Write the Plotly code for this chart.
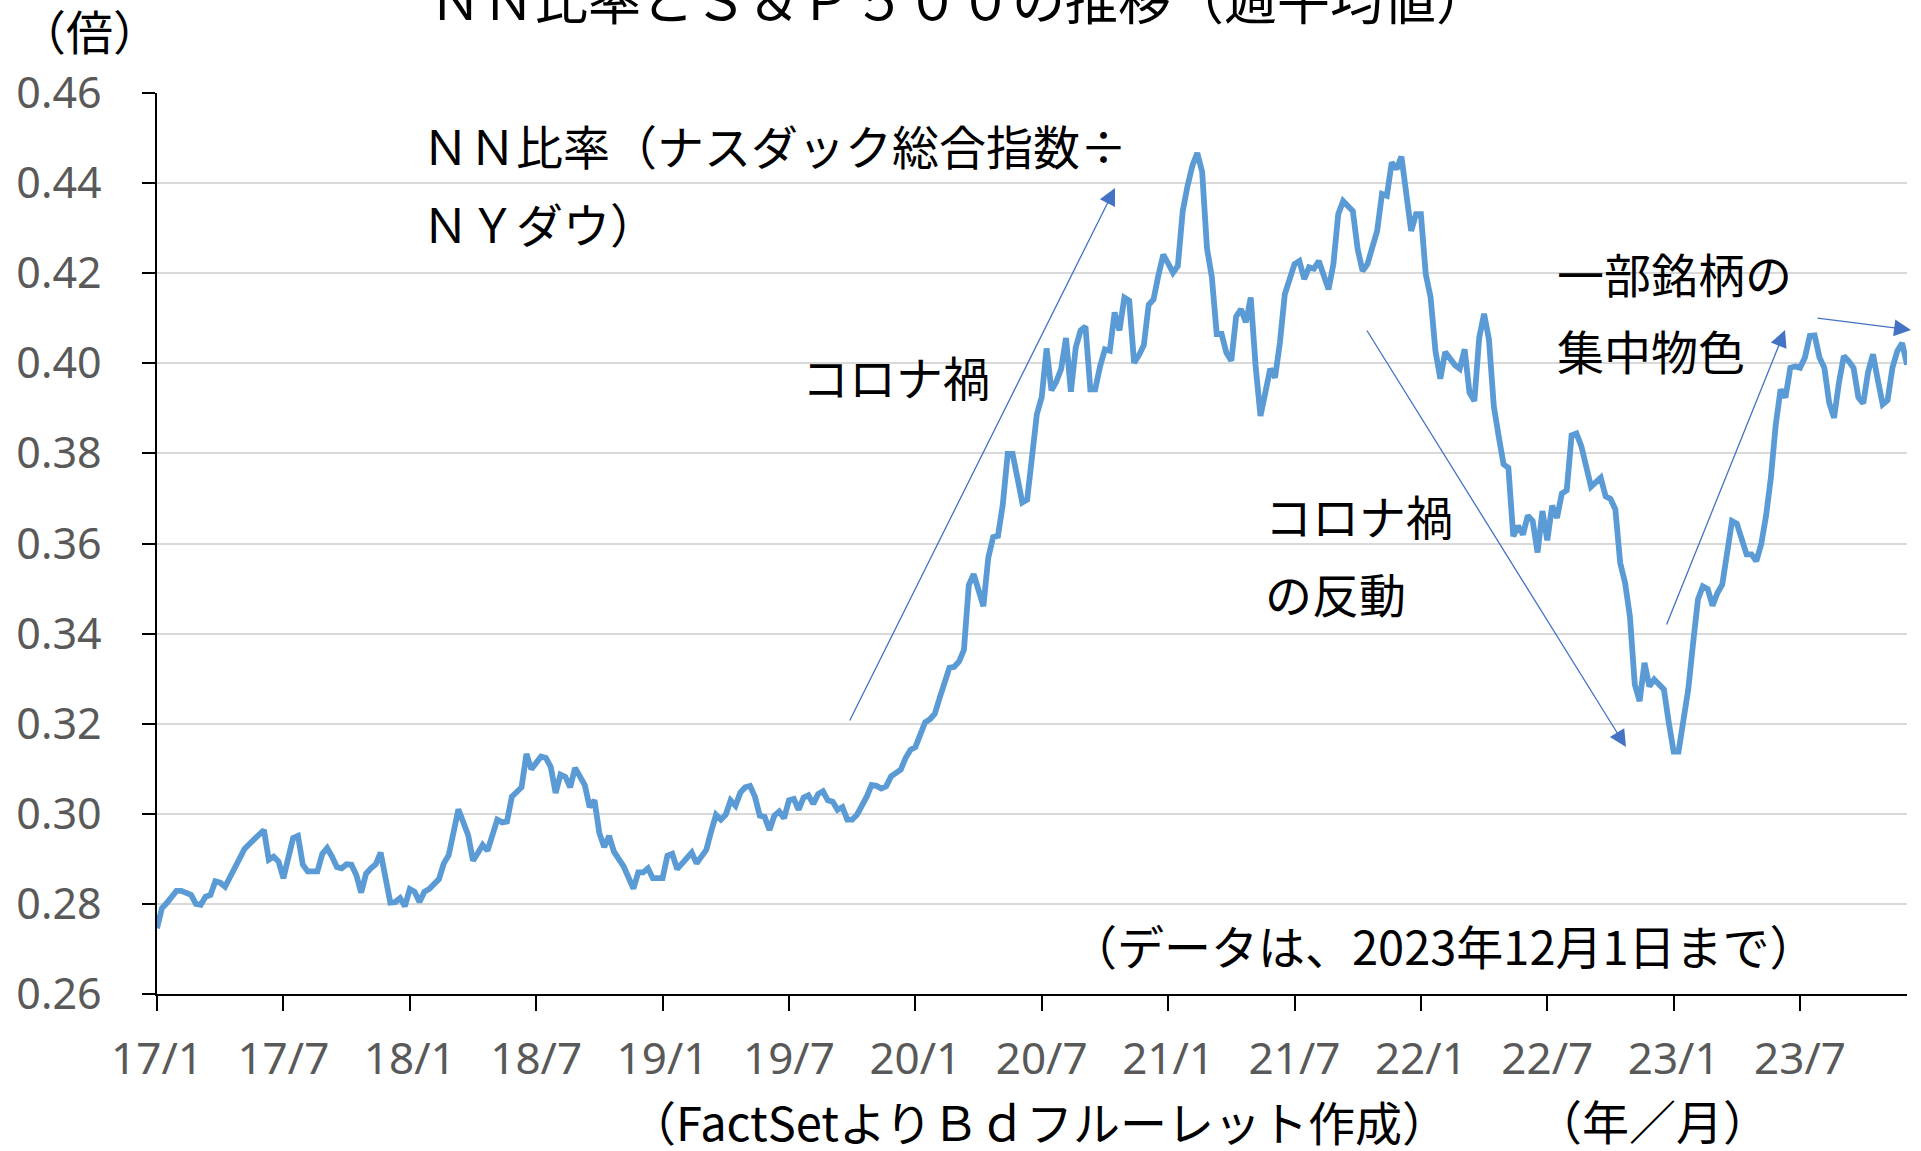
import numpy as np
import pandas as pd
import plotly.graph_objects as go

# ---------------- data (weekly) ----------------
start_date = "2017-01-06"
weeks = [0, 1, 2, 3, 4, 5, 7, 8, 9, 10, 11, 12, 13, 14, 15, 16, 17, 18, 19, 21,
         22, 23, 24, 25, 26, 27, 28, 29, 30, 31, 33, 34, 35, 36, 37, 38, 39, 40, 41, 42,
         43, 44, 45, 46, 47, 48, 49, 50, 51, 52, 53, 54, 55, 56, 58, 59, 60, 61, 62, 64,
         65, 66, 67, 68, 69, 70, 71, 72, 73, 74, 75, 76, 77, 78, 79, 80, 81, 82, 83, 84,
         85, 86, 87, 88, 89, 90, 91, 92, 93, 94, 96, 97, 98, 99, 100, 101, 102, 103, 104, 105,
         106, 107, 108, 109, 110, 111, 112, 113, 114, 115, 116, 117, 118, 119, 120, 121, 122, 123, 124, 125,
         126, 127, 128, 129, 130, 131, 132, 133, 134, 135, 136, 137, 138, 139, 140, 141, 142, 143, 144, 145,
         146, 147, 148, 149, 150, 151, 152, 153, 154, 155, 156, 157, 158, 159, 160, 161, 162, 163, 164, 165,
         166, 167, 168, 169, 170, 171, 172, 173, 174, 175, 176, 177, 178, 179, 180, 181, 182, 183, 184, 185,
         186, 187, 188, 189, 190, 191, 192, 193, 194, 195, 196, 197, 198, 199, 200, 201, 202, 203, 204, 205,
         206, 207, 208, 209, 210, 211, 212, 213, 214, 215, 216, 217, 218, 219, 220, 221, 222, 223, 224, 225,
         226, 227, 228, 229, 230, 231, 232, 233, 234, 235, 236, 237, 238, 239, 240, 241, 242, 243, 244, 245,
         246, 247, 248, 249, 250, 251, 252, 253, 254, 255, 256, 257, 258, 259, 260, 261, 262, 263, 264, 265,
         266, 267, 268, 269, 270, 271, 272, 273, 274, 275, 276, 277, 278, 279, 280, 281, 282, 283, 284, 285,
         286, 287, 288, 289, 290, 291, 292, 293, 295, 297, 298, 299, 300, 301, 302, 303, 304, 305, 306, 307,
         308, 309, 310, 311, 312, 313, 314, 315, 316, 317, 318, 319, 320, 321, 322, 323, 324, 325, 326, 327,
         328, 329, 330, 331, 332, 333, 334, 335, 336, 337, 338, 339, 340, 341, 342, 343, 344, 345, 346, 347,
         348, 349, 350, 351, 352, 353, 354, 355, 356, 357, 358, 359, 360]

nn_ratio = [0.2746, 0.2790, 0.2802, 0.2816, 0.2829, 0.2829, 0.2820, 0.2800, 0.2798, 0.2816,
            0.2820, 0.2850, 0.2847, 0.2838, 0.2859, 0.2876, 0.2902, 0.2922, 0.2933, 0.2956,
            0.2964, 0.2898, 0.2905, 0.2894, 0.2857, 0.2902, 0.2946, 0.2951, 0.2887, 0.2872,
            0.2872, 0.2911, 0.2924, 0.2905, 0.2882, 0.2879, 0.2888, 0.2887, 0.2864, 0.2825,
            0.2867, 0.2879, 0.2888, 0.2914, 0.2850, 0.2803, 0.2804, 0.2813, 0.2795, 0.2833,
            0.2827, 0.2804, 0.2827, 0.2833, 0.2855, 0.2890, 0.2908, 0.2964, 0.3010, 0.2953,
            0.2896, 0.2913, 0.2931, 0.2918, 0.2958, 0.2987, 0.2981, 0.2983, 0.3038, 0.3050,
            0.3059, 0.3133, 0.3099, 0.3113, 0.3127, 0.3124, 0.3104, 0.3046, 0.3087, 0.3082,
            0.3059, 0.3102, 0.3080, 0.3064, 0.3015, 0.3030, 0.2957, 0.2926, 0.2951, 0.2916,
            0.2883, 0.2855, 0.2834, 0.2870, 0.2870, 0.2879, 0.2857, 0.2857, 0.2857, 0.2907,
            0.2911, 0.2877, 0.2890, 0.2905, 0.2914, 0.2890, 0.2904, 0.2920, 0.2961, 0.2998,
            0.2987, 0.2998, 0.3030, 0.3018, 0.3047, 0.3059, 0.3062, 0.3038, 0.2996, 0.2993,
            0.2964, 0.2996, 0.3005, 0.2990, 0.3030, 0.3033, 0.3009, 0.3036, 0.3041, 0.3022,
            0.3044, 0.3050, 0.3030, 0.3027, 0.3009, 0.3015, 0.2987, 0.2987, 0.2998, 0.3015,
            0.3038, 0.3064, 0.3062, 0.3056, 0.3061, 0.3083, 0.3092, 0.3098, 0.3124, 0.3142,
            0.3148, 0.3176, 0.3203, 0.3210, 0.3222, 0.3257, 0.3292, 0.3324, 0.3326, 0.3338,
            0.3364, 0.3508, 0.3532, 0.3499, 0.3461, 0.3568, 0.3614, 0.3617, 0.3687, 0.3799,
            0.3799, 0.3746, 0.3691, 0.3697, 0.3789, 0.3887, 0.3925, 0.4033, 0.3940, 0.3959,
            0.3988, 0.4056, 0.3937, 0.4035, 0.4073, 0.4082, 0.3942, 0.3942, 0.3993, 0.4031,
            0.4028, 0.4113, 0.4073, 0.4146, 0.4139, 0.4001, 0.4018, 0.4040, 0.4130, 0.4142,
            0.4195, 0.4241, 0.4222, 0.4201, 0.4216, 0.4337, 0.4394, 0.4439, 0.4467, 0.4425,
            0.4255, 0.4191, 0.4065, 0.4065, 0.4023, 0.4006, 0.4104, 0.4120, 0.4091, 0.4146,
            0.3994, 0.3883, 0.3935, 0.3988, 0.3968, 0.4046, 0.4153, 0.4190, 0.4220, 0.4227,
            0.4187, 0.4213, 0.4210, 0.4227, 0.4190, 0.4164, 0.4220, 0.4331, 0.4360, 0.4351,
            0.4338, 0.4253, 0.4205, 0.4220, 0.4257, 0.4294, 0.4376, 0.4372, 0.4446, 0.4431,
            0.4459, 0.4372, 0.4294, 0.4331, 0.4331, 0.4198, 0.4146, 0.4027, 0.3966, 0.4025,
            0.4010, 0.3996, 0.3988, 0.4031, 0.3935, 0.3916, 0.4057, 0.4110, 0.4053, 0.3905,
            0.3838, 0.3776, 0.3768, 0.3616, 0.3639, 0.3620, 0.3662, 0.3650, 0.3580, 0.3672,
            0.3607, 0.3684, 0.3657, 0.3711, 0.3718, 0.3840, 0.3844, 0.3816, 0.3726, 0.3746,
            0.3705, 0.3699, 0.3676, 0.3557, 0.3513, 0.3438, 0.3287, 0.3250, 0.3335, 0.3283,
            0.3298, 0.3287, 0.3276, 0.3202, 0.3138, 0.3138, 0.3202, 0.3276, 0.3379, 0.3476,
            0.3505, 0.3499, 0.3462, 0.3490, 0.3509, 0.3587, 0.3650, 0.3644, 0.3613, 0.3576,
            0.3576, 0.3561, 0.3598, 0.3661, 0.3746, 0.3864, 0.3942, 0.3924, 0.3990, 0.3993,
            0.3990, 0.4013, 0.4061, 0.4062, 0.4013, 0.3990, 0.3912, 0.3879, 0.3957, 0.4016,
            0.4005, 0.3990, 0.3924, 0.3911, 0.3981, 0.4020, 0.3963, 0.3909, 0.3918, 0.3990,
            0.4027, 0.4045, 0.3997]

tick_labels = ["17/1", "17/7", "18/1", "18/7", "19/1", "19/7", "20/1",
               "20/7", "21/1", "21/7", "22/1", "22/7", "23/1", "23/7"]
tick_every_weeks = 26
last_week = 360

title_text = "ＮＮ比率とＳ＆Ｐ５００の推移（週平均値）"
y_unit = "（倍）"
source_text = "（FactSetよりＢｄフルーレット作成）"
x_unit = "（年／月）"
data_note = "（データは、2023年12月1日まで）"
label_nn = ["ＮＮ比率（ナスダック総合指数÷", "ＮＹダウ）"]
label_covid = "コロナ禍"
label_rebound = ["コロナ禍", "の反動"]
label_focus = ["一部銘柄の", "集中物色"]

# ---------------- build ----------------
start = pd.Timestamp(start_date)
dates = start + pd.to_timedelta(np.array(weeks) * 7, unit="D")
tick_dates = [start + pd.Timedelta(days=7 * tick_every_weeks * k) for k in range(len(tick_labels))]
end_date = start + pd.Timedelta(days=7 * last_week)

W, H = 1921, 1151
L, R, T, B = 157, 14, 93, 157
PW, PH = W - L - R, H - T - B

def px(x, y):
    return (x - L) / PW, (H - B - y) / PH

JP = "Noto Sans CJK JP"
NUM = "Noto Sans"
ARROW = "#4472C4"

fig = go.Figure()
fig.add_trace(go.Scatter(x=dates, y=nn_ratio, mode="lines",
                         line=dict(color="#5B9BD5", width=5.8),
                         hoverinfo="skip", showlegend=False))

annotations = []

def text(t, x, y, size=47, anchor="left", color="#000000", family=JP):
    xp, yp = px(x, y)
    annotations.append(dict(text=t, x=xp, y=yp, xref="paper", yref="paper",
                            xanchor=anchor, yanchor="middle", showarrow=False,
                            font=dict(family=family, size=size, color=color)))

def arrow(x0, y0, x1, y1):
    xp, yp = px(x1, y1)
    annotations.append(dict(text="", x=xp, y=yp, xref="paper", yref="paper",
                            ax=x0 - x1, ay=y0 - y1, axref="pixel", ayref="pixel",
                            showarrow=True, arrowhead=2, arrowsize=2.6, arrowwidth=1.3,
                            arrowcolor=ARROW, standoff=0))

text(title_text, 959, -3, size=53, anchor="center")
text(y_unit, 89, 29, size=47, anchor="center")
text(label_nn[0], 420, 144)
text(label_nn[1], 420, 222)
text(label_covid, 800, 376)
text(label_rebound[0], 1263, 514)
text(label_rebound[1], 1263, 592)
text(label_focus[0], 1555, 272)
text(label_focus[1], 1555, 350)
text(data_note, 1068, 944)
text(source_text, 627, 1120)
text(x_unit, 1533, 1119)

arrow(849, 722, 1115, 188)
arrow(1366, 329, 1626, 747)
arrow(1666, 626, 1785, 330)
arrow(1816, 318, 1911, 330)

fig.update_layout(
    width=W, height=H,
    margin=dict(l=L, r=R, t=T, b=B, pad=0),
    paper_bgcolor="white", plot_bgcolor="white",
    annotations=annotations,
    showlegend=False,
)
fig.update_xaxes(type="date", range=[start, end_date], tickvals=tick_dates, ticktext=tick_labels,
                 showgrid=False, zeroline=False, showline=True, linecolor="#000000", linewidth=2,
                 ticks="outside", ticklen=15, tickwidth=1.5, tickcolor="#000000",
                 tickfont=dict(family=NUM, size=44, color="#595959"), ticklabelstandoff=10,
                 automargin=False, fixedrange=True)
fig.update_yaxes(range=[0.26, 0.46], dtick=0.02, tick0=0.26, tickformat=".2f",
                 showgrid=True, gridcolor="#D9D9D9", gridwidth=2, zeroline=False,
                 showline=True, linecolor="#000000", linewidth=1.5,
                 ticks="outside", ticklen=13, tickwidth=1.5, tickcolor="#000000",
                 tickfont=dict(family=NUM, size=43, color="#595959"), ticklabelstandoff=32,
                 automargin=False, fixedrange=True)

fig.write_html("out.html", config={"displayModeBar": False},
               post_script="document.body.style.margin='0';document.body.style.overflow='hidden';")
